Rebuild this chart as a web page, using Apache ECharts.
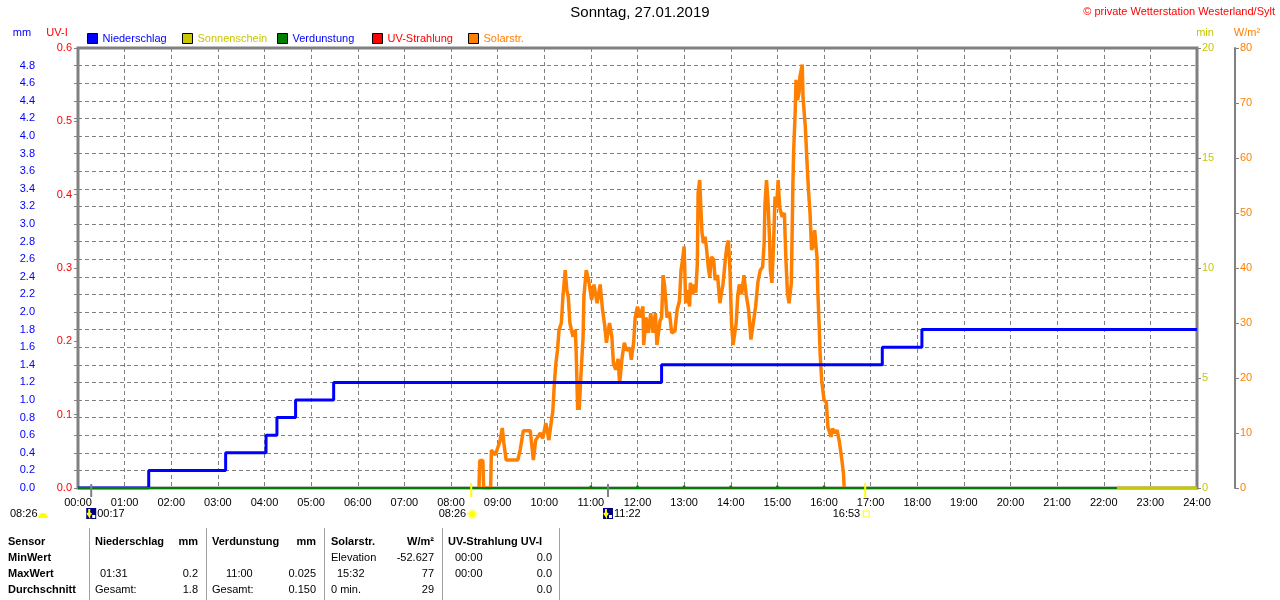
<!DOCTYPE html>
<html>
<head>
<meta charset="utf-8">
<title>Sonntag, 27.01.2019</title>
<script src="https://cdn.jsdelivr.net/npm/echarts@6/dist/echarts.min.js"></script>
<style>
  html, body { margin: 0; padding: 0; background: #fff; }
  #chart { width: 1280px; height: 600px; }
</style>
</head>
<body>
<div id="chart"></div>
<script>
// ---- data ----
var hourTicks = ['00:00','01:00','02:00','03:00','04:00','05:00','06:00','07:00','08:00',
  '09:00','10:00','11:00','12:00','13:00','14:00','15:00','16:00','17:00','18:00',
  '19:00','20:00','21:00','22:00','23:00','24:00'];

// Niederschlag (mm, summed)
var rainTimes  = ['00:00','01:31','03:10','04:02','04:16','04:40','05:29','12:31','17:15','18:06','24:00'];
var rainValues = [0, 0.2, 0.4, 0.6, 0.8, 1.0, 1.2, 1.4, 1.6, 1.8, 1.8];

// Verdunstung (mm per hour)
var evapTimes  = ['11:00','12:00','13:00','14:00','15:00','16:00'];
var evapValues = [0.025, 0.025, 0.025, 0.025, 0.025, 0.025];

// Sonnenschein (min)
var sunTimes  = ['22:17','24:00'];
var sunValues = [0, 0];

// UV-Strahlung (UV-I)
var uvTimes  = ['00:00','24:00'];
var uvValues = [0, 0];

// Solarstrahlung (W/m²)
var solarTimes = ['08:36','08:37','08:41','08:42','08:51','08:52','08:57','09:03','09:06','09:08',
  '09:11','09:26','09:29','09:33','09:42','09:46','09:49','09:55','09:58','10:02',
  '10:06','10:09','10:11','10:13','10:15','10:17','10:19','10:22','10:24','10:27',
  '10:29','10:31','10:33','10:37','10:40','10:41','10:43','10:44','10:45','10:47',
  '10:50','10:51','10:54','10:57','10:59','11:01','11:04','11:08','11:12','11:15',
  '11:18','11:20','11:24','11:27','11:29','11:32','11:35','11:37','11:40','11:43',
  '11:46','11:50','11:52','11:55','11:57','12:00','12:03','12:07','12:08','12:11',
  '12:14','12:17','12:20','12:23','12:25','12:29','12:31','12:33','12:35','12:38',
  '12:41','12:44','12:48','12:51','12:54','12:56','12:58','13:00','13:02','13:04',
  '13:07','13:08','13:11','13:13','13:15','13:17','13:18','13:20','13:23','13:25',
  '13:27','13:29','13:31','13:33','13:35','13:38','13:40','13:43','13:46','13:48',
  '13:50','13:53','13:55','13:57','13:59','14:01','14:03','14:07','14:09','14:11',
  '14:14','14:17','14:20','14:23','14:26','14:29','14:32','14:35','14:38','14:41',
  '14:43','14:44','14:46','14:48','14:50','14:51','14:53','14:55','14:57','14:59',
  '15:01','15:03','15:06','15:09','15:11','15:13','15:15','15:18','15:20','15:21',
  '15:23','15:24','15:26','15:28','15:29','15:32','15:33','15:36','15:38','15:40',
  '15:42','15:44','15:46','15:48','15:51','15:52','15:54','15:55','15:57','16:00',
  '16:03','16:05','16:09','16:11','16:14','16:17','16:20','16:23','16:25','16:26'];
var solarValues = [0, 5, 5, 0, 0, 6.9, 6, 8.5, 10.9, 8.2,
  5.1, 5.1, 6.9, 10.4, 10.4, 5.1, 8.7, 10, 9, 11.8,
  8.7, 12, 13.9, 19, 22.7, 25, 28.7, 30, 34.7, 39.6,
  36, 34.7, 30, 27.5, 28.7, 25, 14.2, 19, 14.2, 20,
  27.5, 34.7, 39.6, 37.8, 36, 34.2, 37, 33.6, 37, 32.4,
  29.3, 26.4, 30, 27.5, 22.7, 21.5, 23.5, 19, 23.5, 26.4,
  25, 25.5, 23.3, 26.4, 31, 33, 31, 33, 26, 31,
  28.2, 31.8, 28.2, 31.8, 26, 30.4, 31, 38.7, 36.6, 31,
  32, 28.2, 28.5, 32.4, 34, 39.6, 41.5, 43.9, 33.6, 36,
  33, 37.3, 35.2, 37, 35.5, 40.8, 53.6, 56, 46.4, 44.5,
  45.7, 43.3, 40.2, 38.4, 42, 41.5, 37.8, 38.7, 33.6, 35.4,
  37, 41.5, 43.9, 45, 39.6, 30, 26, 30, 35, 37,
  35.2, 38.7, 35, 32.4, 27, 30, 33, 37.5, 39.6, 40.2,
  44.5, 51.5, 56, 52, 45, 39.6, 37.3, 43.9, 53, 51,
  56, 51, 49.3, 50, 41.5, 35.4, 33.6, 37.3, 55.4, 61.4,
  68.7, 74.2, 70.5, 72, 74.8, 77, 71, 65.6, 59.6, 54.2,
  50, 43.3, 44, 46.9, 42, 36, 28.7, 24.5, 19.6, 16,
  15.6, 11.1, 9.3, 10.8, 10, 10.5, 8.2, 5.1, 2.7, 0];

// Sonne / Mond
var sunrise = '08:26';
var sunset = '16:53';
var dayLength = '08:26';
var moonEvents = ['00:17', '11:22'];

// Tabelle
var tableHeader = ['Sensor', 'Niederschlag', 'mm', 'Verdunstung', 'mm', 'Solarstr.', 'W/m²', 'UV-Strahlung UV-I', ''];
var tableRowNames = ['MinWert', 'MaxWert', 'Durchschnitt'];
var tableRows = [
  ['', '', '', '', 'Elevation', '-52.627', '00:00', '0.0'],
  ['01:31', '0.2', '11:00', '0.025', '15:32', '77', '00:00', '0.0'],
  ['Gesamt:', '1.8', 'Gesamt:', '0.150', '0 min.', '29', '', '0.0']
];

// ---- helpers ----
function toMin(s) {
  var p = s.split(':');
  return parseInt(p[0], 10) * 60 + parseInt(p[1], 10);
}
function pairs(times, values) {
  return times.map(function (t, i) { return [toMin(t), values[i]]; });
}
function evapLine() {
  var out = [[0, 0]];
  evapTimes.forEach(function (t, i) {
    var m = toMin(t);
    out.push([m - 1, 0], [m, evapValues[i]], [m + 1, 0]);
  });
  out.push([1440, 0]);
  return out;
}

var FONT = 'Liberation Sans, Arial, sans-serif';
var GREY = '#808080';
var BLUE = '#0000ff';
var RED = '#ff0000';
var OLIVE = '#c8c800';
var GREEN = '#008000';
var ORANGE = '#ff8000';

var chart = echarts.init(document.getElementById('chart'));

var legendNames = ['Niederschlag', 'Sonnenschein', 'Verdunstung', 'UV-Strahlung', 'Solarstr.'];
var legendTextColors = [BLUE, OLIVE, BLUE, RED, ORANGE];
var legendLeft = [87, 182, 277, 372, 468];

var option = {
  animation: false,
  textStyle: { fontFamily: FONT },
  title: {
    text: 'Sonntag, 27.01.2019',
    left: 'center',
    top: 5,
    padding: 0,
    textStyle: { fontSize: 15, fontWeight: 'normal', color: '#000', fontFamily: FONT }
  },
  legend: legendNames.map(function (name, i) {
    return {
      left: legendLeft[i],
      top: 33,
      padding: 0,
      itemWidth: 10,
      itemHeight: 10,
      icon: 'rect',
      selectedMode: false,
      itemStyle: { borderColor: '#000', borderWidth: 1 },
      textStyle: { fontSize: 11, fontFamily: FONT },
      data: [{ name: name, textStyle: { color: legendTextColors[i] } }]
    };
  }),
  grid: {
    left: 78, right: 83, top: 48, bottom: 112,
    show: true, borderColor: GREY, borderWidth: 3
  },
  xAxis: {
    type: 'value',
    min: 0, max: 1440, interval: 60,
    axisLine: { show: false },
    axisTick: { show: false },
    axisLabel: {
      color: '#000', fontSize: 11, margin: 9,
      formatter: function (v) { return hourTicks[Math.round(v / 60)] || ''; }
    },
    splitLine: { show: true, lineStyle: { color: GREY, type: [4, 3], width: 1 } }
  },
  yAxis: [
    { // mm
      type: 'value', position: 'left', offset: 37,
      min: 0, max: 5, interval: 0.2,
      axisLine: { show: true, lineStyle: { color: GREY, width: 2 } },
      axisTick: { show: true, length: 4, lineStyle: { color: GREY } },
      axisLabel: {
        color: BLUE, fontSize: 11, margin: 6,
        formatter: function (v) { return v > 4.9 ? '' : v.toFixed(1); }
      },
      splitLine: { show: true, lineStyle: { color: GREY, type: [4, 3], width: 1 } }
    },
    { // UV-I
      type: 'value', position: 'left', offset: 0,
      min: 0, max: 0.6, interval: 0.1,
      axisLine: { show: false },
      axisTick: { show: true, length: 4, lineStyle: { color: GREY } },
      axisLabel: {
        color: RED, fontSize: 11, margin: 6,
        formatter: function (v) { return v.toFixed(1); }
      },
      splitLine: { show: false }
    },
    { // min
      type: 'value', position: 'right', offset: 0,
      min: 0, max: 20, interval: 5,
      axisLine: { show: false },
      axisTick: { show: true, length: 4, lineStyle: { color: GREY } },
      axisLabel: { color: OLIVE, fontSize: 11, margin: 5 },
      splitLine: { show: false }
    },
    { // W/m²
      type: 'value', position: 'right', offset: 38,
      min: 0, max: 80, interval: 10,
      axisLine: { show: true, lineStyle: { color: GREY, width: 2 } },
      axisTick: { show: true, length: 4, lineStyle: { color: GREY } },
      axisLabel: { color: ORANGE, fontSize: 11, margin: 5 },
      splitLine: { show: false }
    }
  ],
  series: [
    {
      name: 'Solarstr.', type: 'line', yAxisIndex: 3, z: 2,
      color: ORANGE, showSymbol: false,
      lineStyle: { width: 3.5, color: ORANGE },
      data: pairs(solarTimes, solarValues)
    },
    {
      name: 'UV-Strahlung', type: 'line', yAxisIndex: 1, z: 3,
      color: RED, showSymbol: false,
      lineStyle: { width: 2, color: RED },
      data: pairs(uvTimes, uvValues)
    },
    {
      name: 'Niederschlag', type: 'line', yAxisIndex: 0, z: 4, step: 'end',
      color: BLUE, showSymbol: false,
      lineStyle: { width: 3, color: BLUE },
      data: pairs(rainTimes, rainValues)
    },
    {
      name: 'Verdunstung', type: 'line', yAxisIndex: 0, z: 5,
      color: GREEN, showSymbol: false,
      lineStyle: { width: 2, color: GREEN },
      data: evapLine()
    },
    {
      name: 'Sonnenschein', type: 'line', yAxisIndex: 2, z: 6,
      color: OLIVE, showSymbol: false,
      lineStyle: { width: 3, color: OLIVE },
      data: pairs(sunTimes, sunValues)
    }
  ]
};

chart.setOption(option);

// ---- texts, markers and table drawn around the plot ----
function txt(s, x, y, color, opts) {
  opts = opts || {};
  return {
    type: 'text', silent: true, z: 100,
    style: {
      text: s, x: x, y: y, fill: color || '#000',
      font: (opts.bold ? 'bold ' : '') + (opts.size || 11) + 'px ' + FONT,
      align: opts.align || 'left', verticalAlign: 'middle'
    }
  };
}

var g = [];
var baseY = chart.convertToPixel({ yAxisIndex: 0 }, 0);

// axis titles and copyright
g.push(txt('mm', 22, 33, BLUE, { align: 'center' }));
g.push(txt('UV-I', 57, 33, RED, { align: 'center' }));
g.push(txt('min', 1205, 33, OLIVE, { align: 'center' }));
g.push(txt('W/m²', 1247, 33, ORANGE, { align: 'center' }));
g.push(txt('© private Wetterstation Westerland/Sylt', 1275, 12, RED, { align: 'right' }));

// sunrise / sunset markers
[sunrise, sunset].forEach(function (t) {
  var x = chart.convertToPixel({ xAxisIndex: 0 }, toMin(t));
  g.push({ type: 'line', silent: true, z: 90,
    shape: { x1: x, y1: baseY - 5, x2: x, y2: baseY + 9 },
    style: { stroke: '#ffff00', lineWidth: 2 } });
});
// moon markers
moonEvents.forEach(function (t) {
  var x = chart.convertToPixel({ xAxisIndex: 0 }, toMin(t));
  g.push({ type: 'line', silent: true, z: 90,
    shape: { x1: x, y1: baseY - 4, x2: x, y2: baseY + 9 },
    style: { stroke: GREY, lineWidth: 2 } });
  // moon icon
  g.push({ type: 'rect', silent: true, z: 90,
    shape: { x: x - 5, y: 508, width: 10, height: 11 },
    style: { fill: '#000080' } });
  g.push({ type: 'polyline', silent: true, z: 91,
    shape: { points: [[x - 2, 509], [x - 2, 516], [x - 4, 513], [x - 2, 516], [x, 513]] },
    style: { stroke: '#ffff00', lineWidth: 2, fill: null } });
  g.push({ type: 'rect', silent: true, z: 91,
    shape: { x: x + 1, y: 515, width: 3, height: 3 },
    style: { fill: '#ffffff' } });
  g.push(txt(t, x + 6, 514, '#000'));
});

var xRise = chart.convertToPixel({ xAxisIndex: 0 }, toMin(sunrise));
var xSet = chart.convertToPixel({ xAxisIndex: 0 }, toMin(sunset));
g.push(txt(sunrise, xRise - 5, 514, '#000', { align: 'right' }));
g.push({ type: 'circle', silent: true, z: 90,
  shape: { cx: xRise + 1, cy: 514, r: 4 },
  style: { fill: '#ffff00', stroke: '#ffff99', lineWidth: 2 } });
g.push(txt(sunset, xSet - 5, 514, '#000', { align: 'right' }));
g.push({ type: 'rect', silent: true, z: 90,
  shape: { x: xSet - 2, y: 511, width: 6, height: 6 },
  style: { fill: null, stroke: '#ffff00', lineWidth: 1 } });

// day length at the left
g.push(txt(dayLength, 10, 514, '#000'));
g.push({ type: 'sector', silent: true, z: 90,
  shape: { cx: 43, cy: 518, r0: 0, r: 5, startAngle: Math.PI, endAngle: 2 * Math.PI },
  style: { fill: '#ffff00' } });

// table
var rowY = [542, 558, 574, 590];
var headerPos = [[8, 'left'], [95, 'left'], [198, 'right'], [212, 'left'], [316, 'right'],
  [331, 'left'], [434, 'right'], [448, 'left'], [552, 'right']];
var cellPos = [[100, 'left'], [198, 'right'], [226, 'left'], [316, 'right'],
  [331, 'left'], [434, 'right'], [455, 'left'], [552, 'right']];
var cellPosGesamt = [[95, 'left'], [198, 'right'], [212, 'left'], [316, 'right'],
  [331, 'left'], [434, 'right'], [455, 'left'], [552, 'right']];

tableHeader.forEach(function (s, i) {
  if (s) g.push(txt(s, headerPos[i][0], rowY[0], '#000', { bold: true, align: headerPos[i][1] }));
});
tableRowNames.forEach(function (name, r) {
  g.push(txt(name, 8, rowY[r + 1], '#000', { bold: true }));
  tableRows[r].forEach(function (s, c) {
    if (!s) return;
    var pos = (r === 2 ? cellPosGesamt : cellPos)[c];
    var x = pos[0];
    if (r !== 2 && c === 4 && s === 'Elevation') x = 331;
    if (r === 1 && c === 4) x = 337;
    g.push(txt(s, x, rowY[r + 1], '#000', { align: pos[1] }));
  });
});
[89, 206, 324, 442, 559].forEach(function (x) {
  g.push({ type: 'line', silent: true, z: 80,
    shape: { x1: x + 0.5, y1: 528, x2: x + 0.5, y2: 600 },
    style: { stroke: '#a0a0a0', lineWidth: 1 } });
});

chart.setOption({ graphic: g });

window.addEventListener('resize', function () { chart.resize(); });
</script>
</body>
</html>
